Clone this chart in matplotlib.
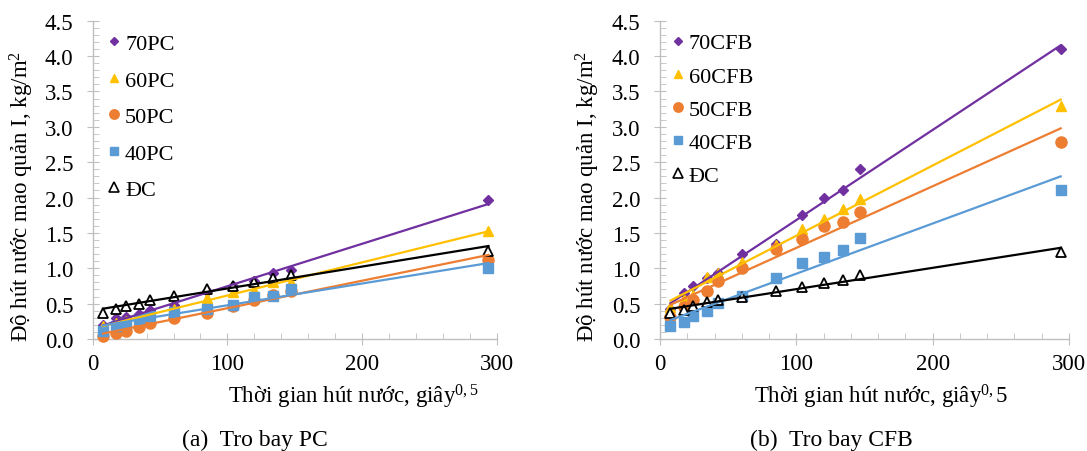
import numpy as np
import matplotlib
matplotlib.use("Agg")
import matplotlib.pyplot as plt
from matplotlib.lines import Line2D
from matplotlib.ticker import MultipleLocator, FormatStrFormatter

plt.rcParams['font.family'] = ['Liberation Serif', 'DejaVu Serif']
plt.rcParams['mathtext.fontset'] = 'custom'
plt.rcParams['mathtext.rm'] = 'Liberation Serif'
plt.rcParams['mathtext.it'] = 'Liberation Serif:italic'

# ---- data ----
t_sqrt = [7.7, 17.3, 24.5, 34.6, 42.4, 60.0, 84.9, 103.9, 120.0, 134.2, 147.0, 293.9]

pc_labels = ['70PC', '60PC', '50PC', '40PC', 'ĐC']
pc_70 = [0.20, 0.29, 0.31, 0.36, 0.41, 0.48, 0.68, 0.75, 0.82, 0.94, 0.97, 1.96]
pc_60 = [0.18, 0.22, 0.26, 0.30, 0.34, 0.42, 0.58, 0.66, 0.69, 0.80, 0.80, 1.52]
pc_50 = [0.04, 0.08, 0.12, 0.17, 0.22, 0.29, 0.37, 0.46, 0.55, 0.62, 0.68, 1.12]
pc_40 = [0.12, 0.19, 0.22, 0.28, 0.32, 0.38, 0.43, 0.48, 0.59, 0.61, 0.70, 1.00]
dc_a  = [0.37, 0.43, 0.46, 0.49, 0.55, 0.61, 0.70, 0.75, 0.80, 0.86, 0.90, 1.25]

cfb_labels = ['70CFB', '60CFB', '50CFB', '40CFB', 'ĐC']
cfb_70 = [0.43, 0.65, 0.75, 0.86, 0.94, 1.20, 1.35, 1.75, 1.99, 2.11, 2.40, 4.10]
cfb_60 = [0.45, 0.57, 0.62, 0.87, 0.93, 1.09, 1.33, 1.56, 1.70, 1.84, 1.98, 3.29]
cfb_50 = [0.31, 0.45, 0.55, 0.68, 0.82, 1.00, 1.27, 1.42, 1.60, 1.66, 1.79, 2.78]
cfb_40 = [0.19, 0.24, 0.33, 0.39, 0.51, 0.61, 0.86, 1.08, 1.16, 1.26, 1.43, 2.10]
dc_b   = [0.37, 0.41, 0.46, 0.52, 0.55, 0.60, 0.68, 0.73, 0.79, 0.83, 0.90, 1.23]

colors = ['#7030A0', '#FFC000', '#ED7D31', '#5B9BD5', '#000000']
markers = ['D', '^', 'o', 's', '^']
msizes = [5, 7.5, 8, 7.5, 7]

W, H = 1087, 452
fig = plt.figure(figsize=(W / 100, H / 100), dpi=100)

def fx(px):
    return px / W

def fy(py):
    return 1 - py / H

ax_top, ax_bot = 21.7, 340.0
axA = fig.add_axes([fx(92.7), fy(ax_bot), (496.7 - 92.7) / W, (ax_bot - ax_top) / H])
axB = fig.add_axes([fx(660.0), fy(ax_bot), (1069.0 - 660.0) / W, (ax_bot - ax_top) / H])

grey = '#BFBFBF'
FS_TICK = 16.5
FS_LEG = 16
FS_LAB = 16.5

def draw(ax, series, labels, leg_x, leg_y, spacing):
    x = np.array(t_sqrt)
    handles = []
    for ys, lab, c, m, ms in zip(series, labels, colors, markers, msizes):
        y = np.array(ys)
        k, b = np.polyfit(x, y, 1)
        xl = np.array([x[0], x[-1]])
        if lab == 'ĐC':
            ax.plot(x, y, linestyle='none', marker=m, ms=ms, mfc='white',
                    mec=c, mew=1.3, zorder=3)
            h = Line2D([], [], linestyle='none', marker=m, ms=6.5, mfc='white',
                       mec=c, mew=1.2)
        else:
            ax.plot(x, y, linestyle='none', marker=m, ms=ms, color=c,
                    mec=c, zorder=3)
            h = Line2D([], [], linestyle='none', marker=m, ms=ms * 0.85,
                       color=c, mec=c)
        ax.plot(xl, k * xl + b, color=c, lw=1.6, zorder=4)
        handles.append(h)

    ax.set_xlim(0, 300)
    ax.set_ylim(0, 4.5)
    ax.xaxis.set_major_locator(MultipleLocator(100))
    ax.xaxis.set_minor_locator(MultipleLocator(20))
    ax.yaxis.set_major_locator(MultipleLocator(0.5))
    ax.yaxis.set_minor_locator(MultipleLocator(0.1))
    ax.yaxis.set_major_formatter(FormatStrFormatter('%.1f'))
    for s in ['top', 'right']:
        ax.spines[s].set_visible(False)
    for s in ['left', 'bottom']:
        ax.spines[s].set_color(grey)
        ax.spines[s].set_linewidth(1.0)
    ax.tick_params(which='major', direction='inout', length=8, color=grey,
                   labelsize=FS_TICK)
    ax.tick_params(which='minor', direction='in', length=4, color=grey)
    ax.tick_params(axis='y', which='major', pad=10)
    ax.tick_params(axis='x', which='major', pad=6)
    for line in ax.lines:
        line.set_clip_on(False)

    ax.legend(handles, labels, loc='upper left',
              bbox_to_anchor=(leg_x, leg_y), frameon=False,
              fontsize=FS_LEG, handlelength=0.6, handletextpad=0.2,
              labelspacing=spacing, borderpad=0, borderaxespad=0)

draw(axA, [pc_70, pc_60, pc_50, pc_40, dc_a], pc_labels, 0.036, 0.96, 0.72)
draw(axB, [cfb_70, cfb_60, cfb_50, cfb_40, dc_b], cfb_labels, 0.027, 0.962, 0.57)

ylab = 'Độ hút nước mao quản I, kg/m$^{2}$'
fig.text(fx(22), fy(196), ylab, rotation=90, ha='center', va='center', fontsize=FS_LAB)
fig.text(fx(588), fy(196), ylab, rotation=90, ha='center', va='center', fontsize=FS_LAB)

fig.text(fx(353), fy(397), 'Thời gian hút nước, giây$^{0,5}$', ha='center',
         va='center', fontsize=FS_LAB)
fig.text(fx(881), fy(397), 'Thời gian hút nước, giây$^{0,}$5', ha='center',
         va='center', fontsize=FS_LAB)

fig.text(fx(255), fy(440), '(a)  Tro bay PC', ha='center', va='center', fontsize=17)
fig.text(fx(831), fy(440), '(b)  Tro bay CFB', ha='center', va='center', fontsize=17)

fig.savefig('out.png', dpi=100)
